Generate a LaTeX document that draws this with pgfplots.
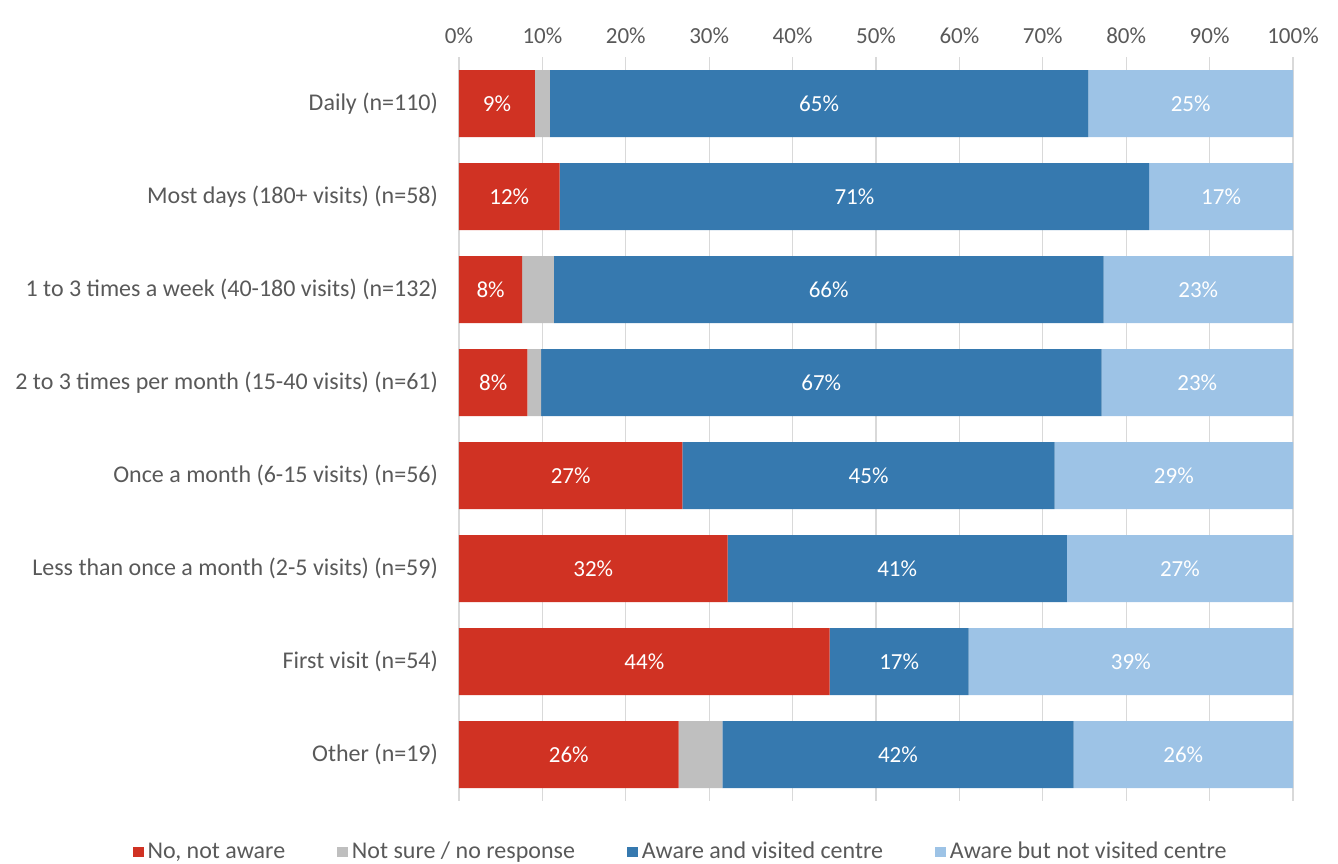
\documentclass[border=0pt]{standalone}
\usepackage{pgfplots}
\pgfplotsset{compat=1.18}
\usepackage{pgfplotstable}
\usepackage{fontspec}
\setmainfont{Carlito}
\definecolor{cRed}{RGB}{208,50,35}
\definecolor{cGray}{RGB}{191,191,191}
\definecolor{cBlue}{RGB}{54,121,175}
\definecolor{cLight}{RGB}{157,195,230}
\definecolor{cText}{RGB}{89,89,89}
\definecolor{cGrid}{RGB}{217,217,217}

\pgfplotstableread{
y red gray blue light
0 9.09 1.82 64.55 24.55
1 12.07 0 70.69 17.24
2 7.58 3.79 65.91 22.73
3 8.20 1.64 67.21 22.95
4 26.79 0 44.64 28.57
5 32.20 0 40.68 27.12
6 44.44 0 16.67 38.89
7 26.32 5.26 42.11 26.32
}\bars

\pgfplotstableread{
x y lab
4.55 0 9
43.18 0 65
87.73 0 25
6.03 1 12
47.41 1 71
91.38 1 17
3.79 2 8
44.32 2 66
88.64 2 23
4.10 3 8
43.44 3 67
88.52 3 23
13.39 4 27
49.11 4 45
85.71 4 29
16.10 5 32
52.54 5 41
86.44 5 27
22.22 6 44
52.78 6 17
80.56 6 39
13.16 7 26
52.63 7 42
86.84 7 26
}\labs

\begin{document}
\begin{tikzpicture}[font=\fontsize{11.5}{13}\selectfont]
\useasboundingbox (-229.5pt,-31pt) rectangle (439.5pt,400.5pt);
\begin{axis}[
  at={(0,0)}, anchor=south west,
  scale only axis, width=417pt, height=372pt,
  xbar stacked, bar width=33.5pt,
  xmin=0, xmax=100, ymin=-0.5, ymax=7.5, y dir=reverse,
  xtick={0,10,...,100},
  xticklabel={\pgfmathprintnumber{\tick}\%},
  xticklabel pos=top,
  /pgf/number format/assume math mode=true,
  ytick={0,...,7},
  yticklabels={Daily (n=110),Most days (180+ visits) (n=58),1 to 3 times a week (40-180 visits) (n=132),2 to 3 times per month (15-40 visits) (n=61),Once a month (6-15 visits) (n=56),Less than once a month (2-5 visits) (n=59),First visit (n=54),Other (n=19)},
  axis line style={draw=none},
  major tick length=0pt,
  xmajorgrids, grid style={cGrid, line width=0.6pt},
  ticklabel style={text=cText},
  xticklabel style={yshift=3pt, font=\fontsize{11.5}{13}\selectfont},
  yticklabel style={xshift=-7pt, font=\fontsize{12}{14}\selectfont},
  legend style={at={(0.267,-0.0686)}, anchor=center, draw=none, fill=none,
    legend columns=4, /tikz/every even column/.append style={column sep=24pt},
    font=\fontsize{12}{14}\selectfont, text=cText},
  legend image code/.code={\fill[#1] (0pt,-2.7pt) rectangle (5.4pt,2.7pt);},
]
\addplot[fill=cRed, draw=none] table[x=red, y=y] {\bars};
\addplot[fill=cGray, draw=none] table[x=gray, y=y] {\bars};
\addplot[fill=cBlue, draw=none] table[x=blue, y=y] {\bars};
\addplot[fill=cLight, draw=none] table[x=light, y=y] {\bars};
\legend{{No, not aware},{Not sure / no response},{Aware and visited centre},{Aware but not visited centre}}
\end{axis}
\begin{axis}[
  at={(0,0)}, anchor=south west,
  scale only axis, width=417pt, height=372pt,
  xmin=0, xmax=100, ymin=-0.5, ymax=7.5, y dir=reverse,
  hide axis,
]
\addplot[draw=none, mark=none, nodes near coords={\pgfplotspointmeta\%},
  point meta=explicit symbolic,
  nodes near coords style={anchor=center, text=white, font=\fontsize{11.5}{13}\selectfont}]
  table[x=x, y=y, meta=lab] {\labs};
\end{axis}
\end{tikzpicture}
\end{document}
